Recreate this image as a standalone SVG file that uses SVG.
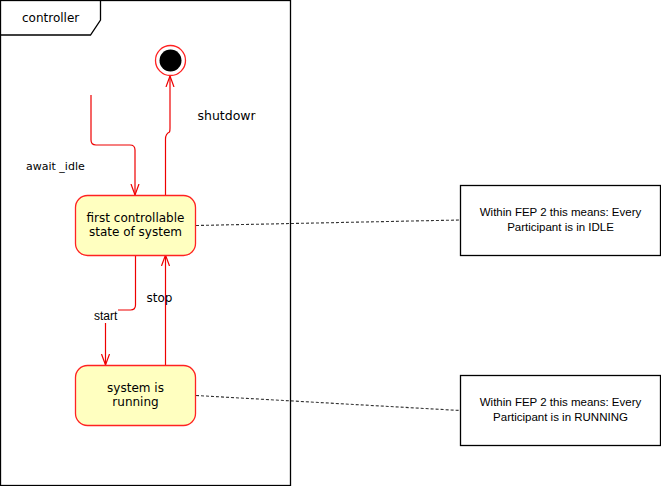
<svg xmlns="http://www.w3.org/2000/svg" width="661" height="486" viewBox="0 0 661 486">
<defs>
<style>
.frame{fill:none;stroke:#000;stroke-width:1.3}
.state{fill:#FFFFC0;stroke:#F22;stroke-width:1.3}
.note{fill:#fff;stroke:#000;stroke-width:1.3}
.tr{fill:none;stroke:#E00;stroke-width:1.2}
.dash{fill:none;stroke:#333;stroke-width:1.1;stroke-dasharray:3,2}
.t{font-family:"DejaVu Sans",Verdana,sans-serif;font-size:12px;fill:#000}
.lbl{font-family:"DejaVu Sans",Verdana,sans-serif;font-size:12px;fill:#000}
.nt{font-family:"Liberation Sans",Arial,sans-serif;font-size:11.5px;fill:#000;text-anchor:middle}
</style>
<marker id="arr" viewBox="0 0 12 10" refX="11" refY="5" markerWidth="12" markerHeight="10" markerUnits="userSpaceOnUse" orient="auto">
<path d="M0,1 L11,5 L0,9" fill="none" stroke="#E00" stroke-width="1.2"/>
</marker>
<clipPath id="clipShut"><rect x="190" y="100" width="65.5" height="30"/></clipPath>
</defs>
<rect width="661" height="486" fill="#fff"/>
<g id="frame-controller">
<rect class="frame" x="0.5" y="0.5" width="290" height="485"/>
<path class="frame" d="M0.5,35 H90.5 L100.5,20 V0.5"/>
<text class="t" x="22" y="22">controller</text>
</g>
<g id="connectors">
<path class="tr" d="M91,95 V140 Q91,145 96,145 H130 Q135,145 135,150 V195" marker-end="url(#arr)"/>
<path class="tr" d="M165.5,195 V139 Q165.5,134 169.5,132 Q170,131 170,128 V76" marker-end="url(#arr)"/>
<path class="tr" d="M135.5,255 V305 Q135.5,310 130.5,310 H118 M105.5,323 V365" marker-end="url(#arr)"/>
<path class="tr" d="M165.5,365 V255" marker-end="url(#arr)"/>
<path class="dash" d="M196,225.5 L460,220"/>
<path class="dash" d="M196,395.5 L460,410.5"/>
<text class="lbl" x="26" y="170" style="font-size:11px">await _idle</text>
<text class="lbl" x="197.5" y="120" clip-path="url(#clipShut)" style="font-size:12.5px">shutdown</text>
<text class="lbl" x="146.5" y="302">stop</text>
<text x="94" y="320" font-family="Liberation Sans, Arial, sans-serif" font-size="12" fill="#000">start</text>
</g>
<g id="final">
<circle cx="170.5" cy="60.5" r="15" fill="#fff" stroke="#F22" stroke-width="1.3"/>
<circle cx="170.5" cy="60.5" r="11" fill="#000"/>
</g>
<g id="state-first">
<rect class="state" x="75.5" y="195.5" width="120" height="60" rx="12" ry="12"/>
<text class="t" x="135.5" y="222" text-anchor="middle">first controllable</text>
<text class="t" x="135.5" y="236" text-anchor="middle">state of system</text>
</g>
<g id="state-running">
<rect class="state" x="75.5" y="365.5" width="120" height="60" rx="12" ry="12"/>
<text class="t" x="135.5" y="391.5" text-anchor="middle">system is</text>
<text class="t" x="135.5" y="406" text-anchor="middle">running</text>
</g>
<g id="note-idle">
<rect class="note" x="460.5" y="185.5" width="200" height="70"/>
<text class="nt" x="560.5" y="216">Within FEP 2 this means: Every</text>
<text class="nt" x="560.5" y="230.5">Participant is in IDLE</text>
</g>
<g id="note-running">
<rect class="note" x="460.5" y="375.5" width="200" height="70"/>
<text class="nt" x="560.5" y="406">Within FEP 2 this means: Every</text>
<text class="nt" x="560.5" y="420.5">Participant is in RUNNING</text>
</g>
</svg>
